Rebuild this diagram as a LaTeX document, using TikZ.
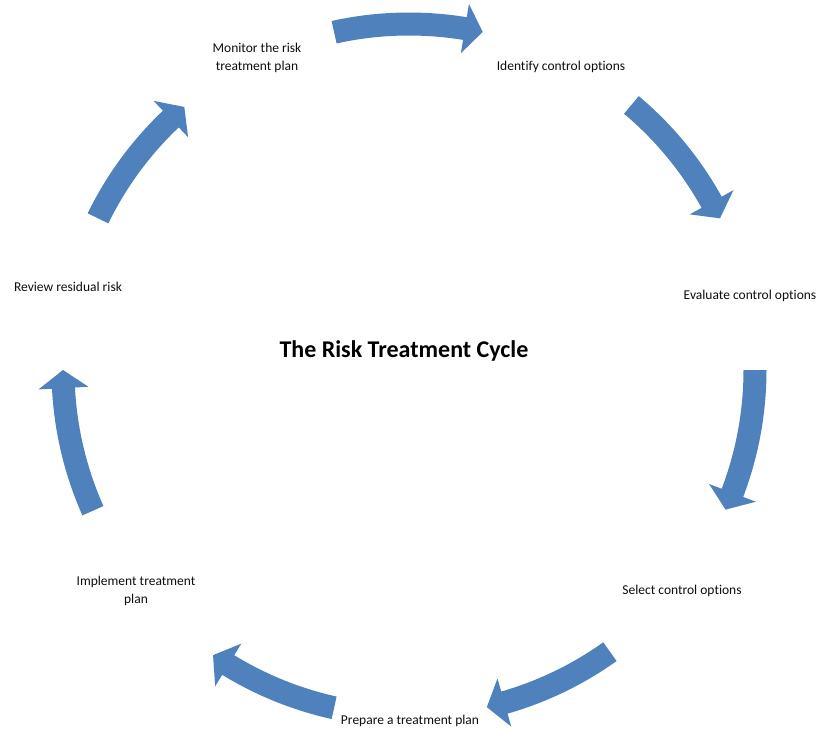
\documentclass[tikz,border=0pt]{standalone}
\usepackage{fontspec}
\setmainfont{Carlito}[Ligatures=NoCommon]
\usetikzlibrary{calc}
\definecolor{cycleblue}{RGB}{79,129,189}
\definecolor{labelink}{RGB}{15,15,15}
% curved block arrow on the cycle circle: #1 = tail angle, #2 = tip angle
\newcommand\cyclearrow[2]{%
  \pgfmathsetmacro\headang{#2+3}%
  \fill[cycleblue] ($(C)+(#1:357.5)$)
    arc[start angle=#1, end angle=\headang, radius=357.5pt]
    -- ($(C)+(\headang:371)$) -- ($(C)+(#2:346)$) -- ($(C)+(\headang:321)$)
    -- ($(C)+(\headang:334.5)$)
    arc[start angle=\headang, end angle=#1, radius=334.5pt] -- cycle;}
\tikzset{
  steplabel/.style={font=\fontsize{13.5}{18}\selectfont, text=labelink, align=center, inner sep=0pt},
  cycletitle/.style={font=\fontsize{24}{28}\selectfont\bfseries, text=black, inner sep=0pt}
}
\begin{document}
\begin{tikzpicture}[x=1pt,y=1pt]
  \fill[white] (0,0) rectangle (823,-731);
  \path[use as bounding box] (0,0) rectangle (823,-731);
  \coordinate (C) at (409,-370);

  % the seven arrows, clockwise
  \cyclearrow{102.5}{77.7}
  \cyclearrow{50}{26}
  \cyclearrow{0}{-23.8}
  \cyclearrow{-54.5}{-77}
  \cyclearrow{-102.5}{-124.5}
  \cyclearrow{-156}{-180}
  \cyclearrow{154}{130.5}

  % stage labels
  \node[steplabel] (monitor)   at (257,-57.5)  {Monitor the risk\\treatment plan};
  \node[steplabel] (identify)  at (561,-66.5)  {Identify control options};
  \node[steplabel] (evaluate)  at (750,-295.5) {Evaluate control options};
  \node[steplabel] (select)    at (682,-590.5) {Select control options};
  \node[steplabel] (prepare)   at (410,-721)   {Prepare a treatment plan};
  \node[steplabel] (implement) at (136,-590.5) {Implement treatment\\plan};
  \node[steplabel] (review)    at (68,-286.5)  {Review residual risk};

  \node[cycletitle] (title) at (404,-350.5) {The Risk Treatment Cycle};
\end{tikzpicture}
\end{document}
